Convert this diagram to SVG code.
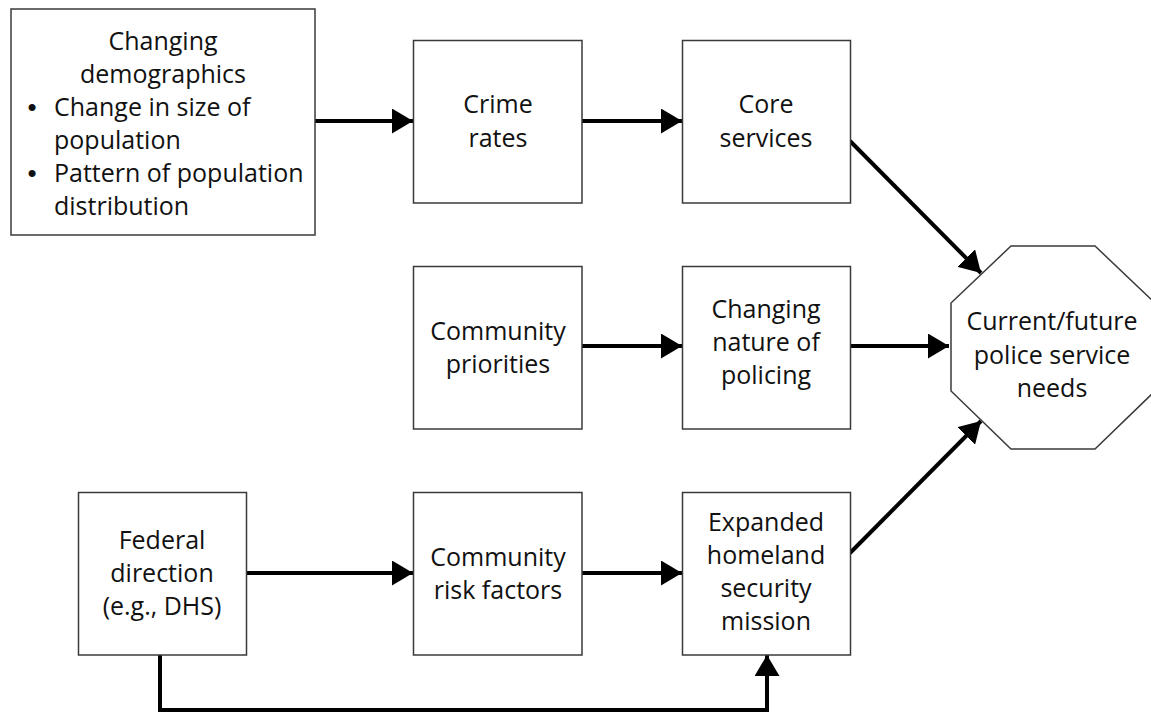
<svg xmlns="http://www.w3.org/2000/svg" width="1151" height="714" viewBox="0 0 1151 714">
<defs>
<style>
.box{fill:#fff;stroke:#3a3a3a;stroke-width:1.5}
.t{font-family:"Open Sans","Noto Sans","Liberation Sans",sans-serif;font-size:25px;fill:#111;text-anchor:middle}
.tl{font-family:"Open Sans","Noto Sans","Liberation Sans",sans-serif;font-size:25px;fill:#111}
.b{font-family:"Liberation Sans",sans-serif;font-size:26px;fill:#111;text-anchor:middle}
.c{fill:none;stroke:#000;stroke-width:4}
</style>
<marker id="ah" viewBox="0 0 21 25" refX="21" refY="12.5" markerWidth="21" markerHeight="25" markerUnits="userSpaceOnUse" orient="auto">
<path d="M0,0 L21,12.5 L0,25 Z" fill="#000"/>
</marker>
</defs>
<rect width="1151" height="714" fill="#fff"/>
<g id="connectors">
<line class="c" x1="315" y1="121" x2="413" y2="121" marker-end="url(#ah)"/>
<line class="c" x1="582" y1="121" x2="682" y2="121" marker-end="url(#ah)"/>
<line class="c" x1="582" y1="346" x2="682" y2="346" marker-end="url(#ah)"/>
<line class="c" x1="850" y1="346" x2="949" y2="346" marker-end="url(#ah)"/>
<line class="c" x1="850" y1="141" x2="981" y2="273" marker-end="url(#ah)"/>
<line class="c" x1="850" y1="553" x2="981" y2="421" marker-end="url(#ah)"/>
<line class="c" x1="246" y1="573" x2="413" y2="573" marker-end="url(#ah)"/>
<line class="c" x1="582" y1="573" x2="682" y2="573" marker-end="url(#ah)"/>
<polyline class="c" points="160,655 160,710 767,710 767,655" marker-end="url(#ah)"/>
</g>
<g id="demographics">
<rect class="box" x="11" y="9" width="304" height="226"/>
<text class="t" x="163" y="50">Changing</text>
<text class="t" x="163" y="83">demographics</text>
<text class="b" x="32" y="116">•</text>
<text class="tl" x="54" y="116">Change in size of</text>
<text class="tl" x="54" y="149">population</text>
<text class="b" x="32" y="182">•</text>
<text class="tl" x="54" y="182">Pattern of population</text>
<text class="tl" x="54" y="215">distribution</text>
</g>
<g id="crime">
<rect class="box" x="413.5" y="40.5" width="168.5" height="162.5"/>
<text class="t" x="498" y="113">Crime</text>
<text class="t" x="498" y="147">rates</text>
</g>
<g id="core">
<rect class="box" x="682.5" y="40.5" width="168" height="162.5"/>
<text class="t" x="766" y="113">Core</text>
<text class="t" x="766" y="147">services</text>
</g>
<g id="priorities">
<rect class="box" x="413.5" y="266.5" width="168.5" height="162.5"/>
<text class="t" x="498" y="340">Community</text>
<text class="t" x="498" y="373">priorities</text>
</g>
<g id="nature">
<rect class="box" x="682.5" y="266.5" width="168" height="162.5"/>
<text class="t" x="766" y="318">Changing</text>
<text class="t" x="766" y="351">nature of</text>
<text class="t" x="766" y="384">policing</text>
</g>
<g id="needs">
<polygon class="box" points="1011,246 1095,246 1155,303 1155,391 1095,449 1011,449 951,391 951,303"/>
<text class="t" x="1052" y="330">Current/future</text>
<text class="t" x="1052" y="364">police service</text>
<text class="t" x="1052" y="397">needs</text>
</g>
<g id="federal">
<rect class="box" x="78.5" y="492.5" width="168" height="162.5"/>
<text class="t" x="162" y="549">Federal</text>
<text class="t" x="162" y="582">direction</text>
<text class="t" x="162" y="615">(e.g., DHS)</text>
</g>
<g id="risk">
<rect class="box" x="413.5" y="492.5" width="168.5" height="162.5"/>
<text class="t" x="498" y="566">Community</text>
<text class="t" x="498" y="599">risk factors</text>
</g>
<g id="homeland">
<rect class="box" x="682.5" y="492.5" width="168" height="162.5"/>
<text class="t" x="766" y="531">Expanded</text>
<text class="t" x="766" y="564">homeland</text>
<text class="t" x="766" y="597">security</text>
<text class="t" x="766" y="630">mission</text>
</g>
</svg>
